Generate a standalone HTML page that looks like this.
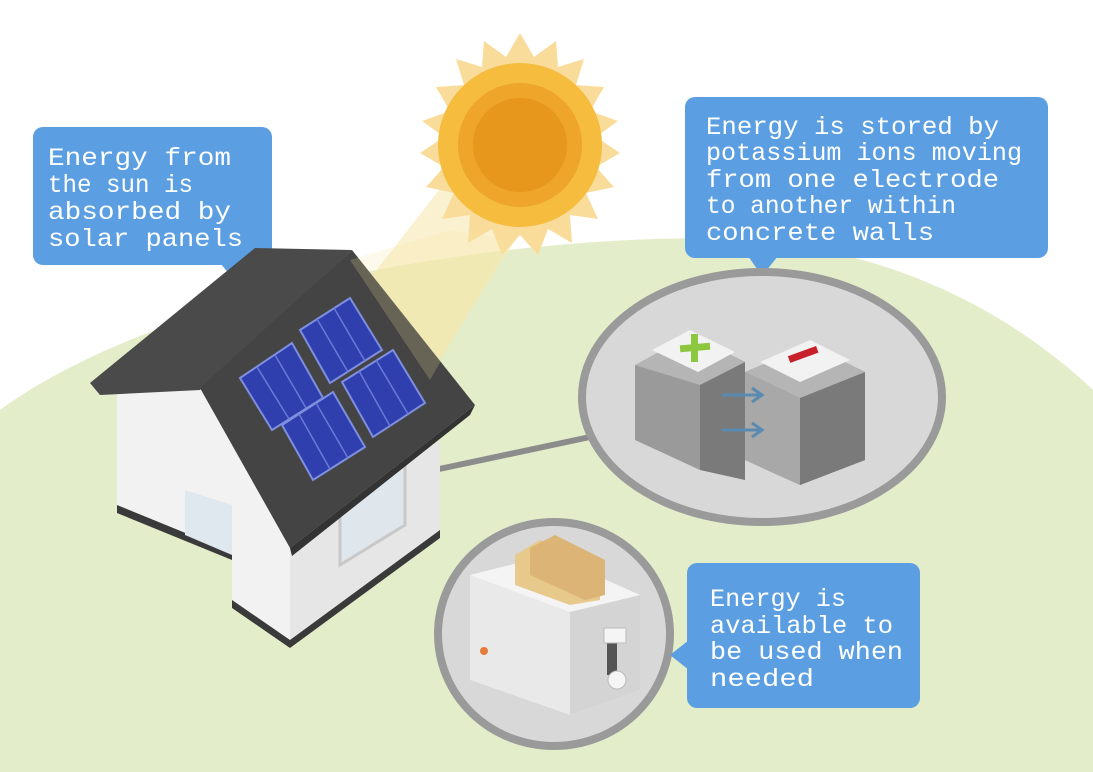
<!DOCTYPE html>
<html><head><meta charset="utf-8"><style>
html,body{margin:0;padding:0;background:#fff}
svg{display:block}
text{font-family:"Liberation Mono","DejaVu Sans Mono",monospace;fill:#fff;font-size:25px}
</style></head><body>
<svg width="1093" height="772" viewBox="0 0 1093 772" xmlns="http://www.w3.org/2000/svg">
<rect width="1093" height="772" fill="#fff"/>
<!-- hill -->
<path d="M0,410 C150,300 450,240 700,238 C900,238 1030,330 1093,390 L1093,772 L0,772 Z" fill="#e4edc9"/>
<!-- sun beams -->
<polygon points="470,150 560,170 420,390 330,330" fill="#f6e7b0" opacity="0.6"/>
<!-- sun rays -->
<g transform="translate(520,145)">
<polygon fill="#f9dc9a" points="0,-112 14,-88 36,-104 38,-78 64,-86 56,-60 84,-58 70,-34 98,-24 76,-8 100,8 76,22 94,42 66,48 78,74 50,70 52,98 28,84 18,110 0,90 -18,110 -28,84 -52,98 -50,70 -78,74 -66,48 -94,42 -76,22 -100,8 -76,-8 -98,-24 -70,-34 -84,-58 -56,-60 -64,-86 -38,-78 -36,-104 -14,-88"/>
<circle r="82" fill="#f5bc3e"/>
<circle r="62" fill="#eea52a"/>
<circle r="47" fill="#e6971c"/>
</g>
<!-- callout 1 -->
<rect x="33" y="127" width="239" height="138" rx="10" fill="#5b9fe2"/>
<polygon points="220,263 248,263 236,282" fill="#5b9fe2"/>
<text x="48" y="165" textLength="183" lengthAdjust="spacingAndGlyphs">Energy from</text>
<text x="48" y="192" textLength="145" lengthAdjust="spacingAndGlyphs">the sun is</text>
<text x="48" y="219" textLength="183" lengthAdjust="spacingAndGlyphs">absorbed by</text>
<text x="48" y="246" textLength="195" lengthAdjust="spacingAndGlyphs">solar panels</text>
<!-- callout 2 -->
<rect x="685" y="97" width="363" height="161" rx="10" fill="#5b9fe2"/>
<polygon points="748,256 778,256 762,276" fill="#5b9fe2"/>
<text x="706" y="134" textLength="293" lengthAdjust="spacingAndGlyphs">Energy is stored by</text>
<text x="706" y="160" textLength="316" lengthAdjust="spacingAndGlyphs">potassium ions moving</text>
<text x="706" y="187" textLength="293" lengthAdjust="spacingAndGlyphs">from one electrode</text>
<text x="706" y="213" textLength="250" lengthAdjust="spacingAndGlyphs">to another within</text>
<text x="706" y="240" textLength="228" lengthAdjust="spacingAndGlyphs">concrete walls</text>
<!-- big circle -->
<line x1="425" y1="472" x2="590" y2="437" stroke="#8c8c8c" stroke-width="6"/>
<circle cx="425" cy="472" r="12" fill="#8c8c8c"/>
<ellipse cx="762" cy="397" rx="180" ry="125" fill="#d8d8d8" stroke="#9a9a9a" stroke-width="8"/>
<!-- batteries -->
<polygon points="635,365 700,340 700,470 635,440" fill="#9a9a9a"/>
<polygon points="700,340 745,362 745,480 700,470" fill="#7a7a7a"/>
<polygon points="635,365 690,335 745,362 700,385" fill="#b5b5b5"/>
<polygon points="652,350 690,330 735,352 698,372" fill="#f2f2f2"/>
<rect x="680" y="344" width="30" height="7" fill="#8dc63f" transform="rotate(-5 695 347)"/>
<rect x="691" y="334" width="7" height="28" fill="#8dc63f"/>
<polygon points="745,372 810,345 865,372 865,460 800,485 745,460" fill="#8a8a8a"/>
<polygon points="745,372 800,398 800,485 745,460" fill="#a8a8a8"/>
<polygon points="800,398 865,372 865,460 800,485" fill="#7a7a7a"/>
<polygon points="745,372 810,345 865,372 800,398" fill="#b5b5b5"/>
<polygon points="760,362 810,340 850,360 800,382" fill="#f2f2f2"/>
<rect x="788" y="351" width="30" height="7" fill="#c8202a" transform="rotate(-20 803 354)"/>
<path d="M722,395 L760,395 M752,388 L762,395 L752,402 M722,430 L760,430 M752,423 L762,430 L752,437" stroke="#5a8ab0" stroke-width="3" fill="none"/>
<!-- small circle -->
<ellipse cx="554" cy="634" rx="116" ry="112" fill="#d8d8d8" stroke="#9a9a9a" stroke-width="8"/>
<polygon points="470,575 550,555 640,595 640,690 570,715 470,680" fill="#e9e9e9"/>
<polygon points="570,610 640,595 640,690 570,715" fill="#d4d4d4"/>
<polygon points="470,575 550,555 640,595 570,612" fill="#f4f4f4"/>
<polygon points="515,555 540,540 600,565 600,600 570,605 515,585" fill="#e8c98c"/>
<polygon points="530,548 555,535 605,560 605,595 585,600 530,575" fill="#dcb576"/>
<rect x="607" y="630" width="10" height="45" fill="#555"/>
<rect x="604" y="628" width="22" height="15" fill="#f5f5f5" stroke="#bbb"/>
<circle cx="617" cy="680" r="9" fill="#f5f5f5" stroke="#bbb"/>
<circle cx="484" cy="651" r="4" fill="#e57c3a"/>
<!-- callout 3 -->
<rect x="687" y="563" width="233" height="145" rx="10" fill="#5b9fe2"/>
<polygon points="689,640 689,670 670,655" fill="#5b9fe2"/>
<text x="710" y="606" textLength="136" lengthAdjust="spacingAndGlyphs">Energy is</text>
<text x="710" y="633" textLength="183" lengthAdjust="spacingAndGlyphs">available to</text>
<text x="710" y="659" textLength="193" lengthAdjust="spacingAndGlyphs">be used when</text>
<text x="710" y="686" textLength="104" lengthAdjust="spacingAndGlyphs">needed</text>
<!-- house -->
<polygon points="117,392 200,388 290,545 290,640 232,605 232,555 117,510" fill="#f2f2f2"/>
<polygon points="117,505 232,552 232,560 117,513" fill="#3a3a3a"/>
<polygon points="185,490 232,505 232,555 185,535" fill="#dfe8ee"/>
<polygon points="290,545 440,440 440,530 290,640" fill="#e6e6e6"/>
<polygon points="232,600 290,640 440,530 440,538 290,648 232,608" fill="#3a3a3a"/>
<polygon points="340,480 405,440 405,525 340,565" fill="#dfe6ec" stroke="#c8c8c8" stroke-width="3"/>
<polygon points="90,383 255,248 352,250 200,390 100,395" fill="#4a4a4a"/>
<polygon points="200,388 352,250 475,405 290,548" fill="#444"/>
<polygon points="290,548 475,405 470,415 292,556" fill="#333"/>
<polygon points="240,378 292,343 323,398 272,430" fill="#2f3fae" stroke="#7f8fe0" stroke-width="2"/>
<polygon points="300,330 350,298 382,350 330,383" fill="#2f3fae" stroke="#7f8fe0" stroke-width="2"/>
<polygon points="282,425 333,392 365,447 313,480" fill="#2f3fae" stroke="#7f8fe0" stroke-width="2"/>
<polygon points="342,382 393,350 425,403 373,437" fill="#2f3fae" stroke="#7f8fe0" stroke-width="2"/>
<g stroke="#6a7ad8" stroke-width="1.5">
<line x1="257" y1="367" x2="289" y2="419"/><line x1="275" y1="355" x2="306" y2="408"/>
<line x1="317" y1="319" x2="348" y2="372"/><line x1="334" y1="308" x2="365" y2="361"/>
<line x1="299" y1="414" x2="330" y2="469"/><line x1="316" y1="403" x2="348" y2="458"/>
<line x1="359" y1="371" x2="390" y2="426"/><line x1="376" y1="360" x2="408" y2="414"/>
</g>
<polygon points="350,260 450,230 510,240 430,380" fill="#f7e4a0" opacity="0.2"/>
</svg>
</body></html>
